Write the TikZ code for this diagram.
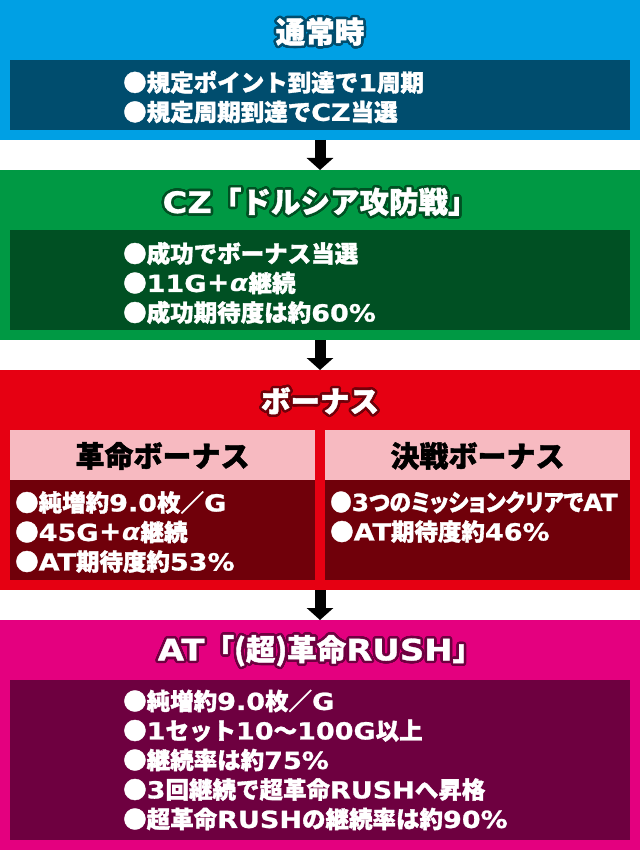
\documentclass[tikz,border=0pt]{standalone}
\usepackage{fontspec}
\setmainfont{Noto Sans CJK JP}[BoldFeatures={FakeBold=1.5}]
\newfontfamily\latinfont{DejaVu Sans}[FakeStretch=1.15,BoldFeatures={FakeBold=1}]
\newcommand{\lat}[1]{{\latinfont #1}}
\usepackage{contour}
\usetikzlibrary{arrows.meta}

\definecolor{normalblue}{RGB}{0,160,228}
\definecolor{normaldark}{RGB}{0,77,110}
\definecolor{czgreen}{RGB}{0,153,68}
\definecolor{czdark}{RGB}{0,80,35}
\definecolor{bonusred}{RGB}{230,0,18}
\definecolor{bonuspink}{RGB}{247,186,193}
\definecolor{bonusdark}{RGB}{112,0,10}
\definecolor{atpink}{RGB}{228,0,127}
\definecolor{atdark}{RGB}{110,0,64}

\contourlength{2.5pt}
\contournumber{24}

\begin{document}
\begin{tikzpicture}[x=1pt,y=-1pt,
    band/.style={inner sep=0pt,outer sep=0pt,minimum width=640pt},
    panel/.style={inner sep=0pt,outer sep=0pt},
    title/.style={text=white,font=\fontsize{29.5}{33}\selectfont\bfseries},
    head/.style={text=black,font=\fontsize{29}{32}\selectfont\bfseries},
    body/.style={text=white,anchor=west,align=left,inner sep=0pt,
        font=\fontsize{23.5}{29.5}\selectfont\bfseries},
    flowarrow/.style={line width=11pt,-{Triangle[width=26pt,length=12pt]}}]

\useasboundingbox (0,0) rectangle (640,850);

\node[band,fill=normalblue,minimum height=140pt] (normal) at (320,70) {};
\node[band,fill=czgreen,minimum height=170pt] (cz) at (320,255) {};
\node[band,fill=bonusred,minimum height=220pt] (bonus) at (320,480) {};
\node[band,fill=atpink,minimum height=230pt] (at) at (320,735) {};

\foreach \a/\b in {normal/cz,cz/bonus,bonus/at}
    \draw[flowarrow] (\a) -- (\b);

% 通常時
\node[title] (normaltitle) at (320,33) {\contour{normaldark}{通常時}};
\node[panel,fill=normaldark,minimum width=620pt,minimum height=70pt] (normalbox) at (320,95) {};
\node[body] (normaltext) at (123,97) {●規定ポイント到達で\lat{1}周期\\●規定周期到達で\lat{CZ}当選};

% CZ
\node[title] (cztitle) at (320,203) {\contour{czdark}{\lat{CZ}「ドルシア攻防戦」}};
\node[panel,fill=czdark,minimum width=620pt,minimum height=100pt] (czbox) at (320,280) {};
\node[body] (cztext) at (123,283) {●成功でボーナス当選\\●\lat{11G}＋\lat{\itshape α}継続\\●成功期待度は約\lat{60\%}};

% ボーナス
\node[title] (bonustitle) at (320,402) {\contour{bonusdark}{ボーナス}};
\foreach \n/\x in {kakumei/162.5,kessen/477.5} {
    \node[panel,fill=bonuspink,minimum width=305pt,minimum height=50pt] (\n head) at (\x,455) {};
    \node[panel,fill=bonusdark,minimum width=305pt,minimum height=100pt] (\n box) at (\x,530) {};
}
\node[head] (kakumeititle) at (162.5,456) {革命ボーナス};
\node[head] (kessentitle) at (477.5,456) {決戦ボーナス};
\node[body] (kakumeitext) at (15,532) {●純増約\lat{9.0}枚／\lat{G}\\●\lat{45G}＋\lat{\itshape α}継続\\●\lat{AT}期待度約\lat{53\%}};
\node[body] (kessentext) at (330,517) {\addfontfeature{RawFeature=+palt}\scalebox{0.92}[1]{●\lat{3}つのミッションクリアで\lat{AT}}\\●\lat{AT}期待度約\lat{46\%}};

% AT
\node[title] (attitle) at (320,652) {\contour{atdark}{\lat{AT}「(超)革命\lat{RUSH}」}};
\node[panel,fill=atdark,minimum width=620pt,minimum height=160pt] (atbox) at (320,760) {};
\node[body] (attext) at (123,760) {●純増約\lat{9.0}枚／\lat{G}\\●\lat{1}セット\lat{10}～\lat{100G}以上\\●継続率は約\lat{75\%}\\●\lat{3}回継続で超革命\lat{RUSH}へ昇格\\●超革命\lat{RUSH}の継続率は約\lat{90\%}};

\end{tikzpicture}
\end{document}
